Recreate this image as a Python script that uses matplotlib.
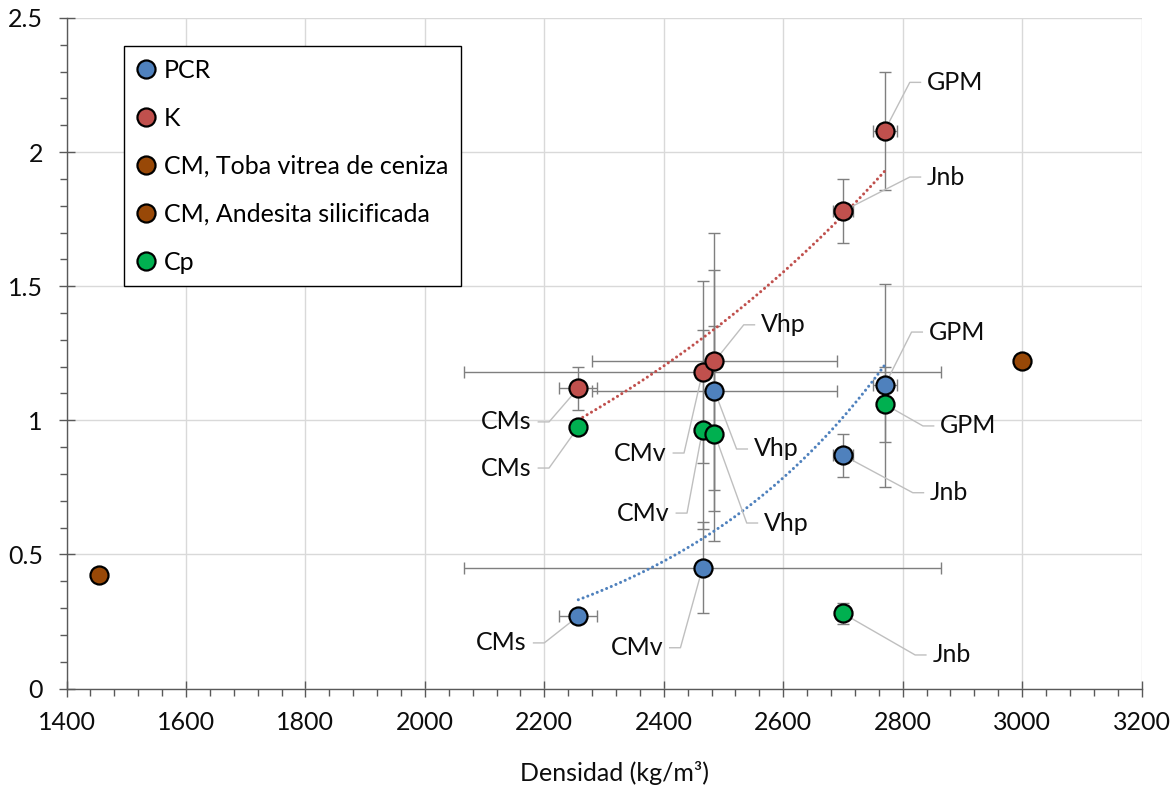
import numpy as np
import matplotlib
matplotlib.use("Agg")
import matplotlib.pyplot as plt
from matplotlib.lines import Line2D
from matplotlib.ticker import MultipleLocator, FuncFormatter

plt.rcParams['font.family'] = ['Lato', 'DejaVu Sans']

# Muestras y densidad (kg/m3), con su desviación
muestras = ["CMs", "CMv", "Vhp", "Jnb", "GPM"]
densidad = [2257, 2465, 2485, 2700, 2770]
densidad_err = [32, 400, 205, 17, 20]

# PCR, K y Cp por muestra
pcr = [0.27, 0.45, 1.11, 0.87, 1.13]
pcr_err = [0.0, 0.17, 0.45, 0.08, 0.38]
k = [1.12, 1.18, 1.22, 1.78, 2.08]
k_err = [0.08, 0.34, 0.48, 0.12, 0.22]
cp = [0.975, 0.965, 0.95, 0.28, 1.06]
cp_err = [0.0, 0.37, 0.40, 0.04, 0.14]

# Roca caja (CM)
cm_toba = (1455, 0.425)
cm_andesita = (3000, 1.22)

AZUL = '#4F81BD'
ROJO = '#C0504D'
CAFE = '#984807'
VERDE = '#00B050'
GRIS_ERR = '#7F7F7F'
TXT = '#0D0D0D'
FS = 18

# posición de cada etiqueta: (serie, muestra, x texto, y texto, lado)
etiquetas = [
    ("K", "GPM", 2841, 2.26, "der"),
    ("K", "Jnb", 2841, 1.907, "der"),
    ("PCR", "GPM", 2844, 1.329, "der"),
    ("Cp", "GPM", 2863, 0.979, "der"),
    ("PCR", "Jnb", 2846, 0.730, "der"),
    ("Cp", "Jnb", 2850, 0.125, "der"),
    ("K", "Vhp", 2563, 1.356, "der"),
    ("PCR", "Vhp", 2551, 0.893, "der"),
    ("Cp", "Vhp", 2568, 0.617, "der"),
    ("K", "CMs", 2179, 0.994, "izq"),
    ("Cp", "CMs", 2179, 0.822, "izq"),
    ("K", "CMv", 2405, 0.878, "izq"),
    ("Cp", "CMv", 2410, 0.654, "izq"),
    ("PCR", "CMs", 2171, 0.170, "izq"),
    ("PCR", "CMv", 2399, 0.152, "izq"),
]

fig = plt.figure(figsize=(11.74, 7.87), dpi=100)
ax = fig.add_axes([66.5 / 1174, 1 - 688.5 / 787, 1075 / 1174, 670.5 / 787])

ms = 13
mew = 1.6
eb = dict(ecolor=GRIS_ERR, elinewidth=1.0, capsize=4.3, capthick=1.0, zorder=3)

series = {"PCR": pcr, "K": k, "Cp": cp}

# barras de error
ax.errorbar(densidad, pcr, yerr=pcr_err, xerr=densidad_err, fmt='none', **eb)
ax.errorbar(densidad, k, yerr=k_err, xerr=densidad_err, fmt='none', **eb)
ax.errorbar(densidad, cp, yerr=cp_err, fmt='none', **eb)

# líneas de tendencia exponenciales
xs = np.linspace(min(densidad), max(densidad), 100)
for vals, col in [(pcr, AZUL), (k, ROJO)]:
    b, a = np.polyfit(densidad, np.log(vals), 1)
    ax.plot(xs, np.exp(a + b * xs), color=col, lw=2.2, ls=(0, (0.01, 1.65)),
            dash_capstyle='round', zorder=4)

# guías de las etiquetas (debajo de los puntos)
seg = 18
sep = 11
for serie, m, tx, ty, lado in etiquetas:
    i = muestras.index(m)
    px, py = densidad[i], series[serie][i]
    if lado == "der":
        x_codo, x_fin = tx - sep - seg, tx - sep
        ha = 'left'
    else:
        x_codo, x_fin = tx + sep + seg, tx + sep
        ha = 'right'
    ax.plot([px, x_codo, x_fin], [py, ty, ty], color='#BFBFBF', lw=1.0, zorder=5)
    ax.text(tx, ty, m, ha=ha, va='center', fontsize=FS, color=TXT, zorder=7)

mk = dict(marker='o', ms=ms, mec='black', mew=mew, ls='none', zorder=6)
ax.plot(densidad, pcr, mfc=AZUL, **mk)
ax.plot(densidad, k, mfc=ROJO, **mk)
ax.plot(*cm_toba, mfc=CAFE, **mk)
ax.plot(*cm_andesita, mfc=CAFE, **mk)
ax.plot(densidad, cp, mfc=VERDE, **mk)

ax.set_xlim(1400, 3200)
ax.set_ylim(0, 2.5)
ax.xaxis.set_major_locator(MultipleLocator(200))
ax.xaxis.set_minor_locator(MultipleLocator(40))
ax.yaxis.set_major_locator(MultipleLocator(0.5))
ax.yaxis.set_minor_locator(MultipleLocator(0.1))
ax.yaxis.set_major_formatter(FuncFormatter(lambda v, p: f'{v:g}'))

ax.grid(True, which='major', color='#D9D9D9', lw=1.0, zorder=0)
ax.set_axisbelow(True)
for s in ['top', 'right']:
    ax.spines[s].set_visible(False)
for s in ['left', 'bottom']:
    ax.spines[s].set_color('#595959')
    ax.spines[s].set_linewidth(1.0)

ax.tick_params(which='major', direction='inout', length=12, width=1.0, color='#595959',
               labelsize=FS, labelcolor=TXT)
ax.tick_params(which='minor', direction='out', length=5, width=1.0, color='#595959')
ax.tick_params(axis='x', which='major', pad=10)
ax.tick_params(axis='y', which='major', pad=11)

ax.set_xlabel('Densidad (kg/m³)', fontsize=FS, color=TXT)
ax.xaxis.label.set_va('center')
ax.xaxis.set_label_coords((615 - 66.5) / 1075, -0.126)

# leyenda con solo los marcadores
handles = [
    Line2D([], [], mfc=AZUL, **mk),
    Line2D([], [], mfc=ROJO, **mk),
    Line2D([], [], mfc=CAFE, **mk),
    Line2D([], [], mfc=CAFE, **mk),
    Line2D([], [], mfc=VERDE, **mk),
]
nombres = ["PCR", "K", "CM, Toba vitrea de ceniza", "CM, Andesita silicificada", "Cp"]
leg = ax.legend(handles, nombres, loc='upper left', bbox_to_anchor=(0.0535, 0.958),
                borderaxespad=0, fontsize=FS, frameon=True, fancybox=False,
                edgecolor='black', framealpha=1, labelspacing=1.0,
                handlelength=0.75, handletextpad=0.35, borderpad=0.5, markerscale=1.0)
leg.get_frame().set_linewidth(1.0)
leg.set_zorder(8)

fig.savefig('out.png', dpi=100, facecolor='white')
